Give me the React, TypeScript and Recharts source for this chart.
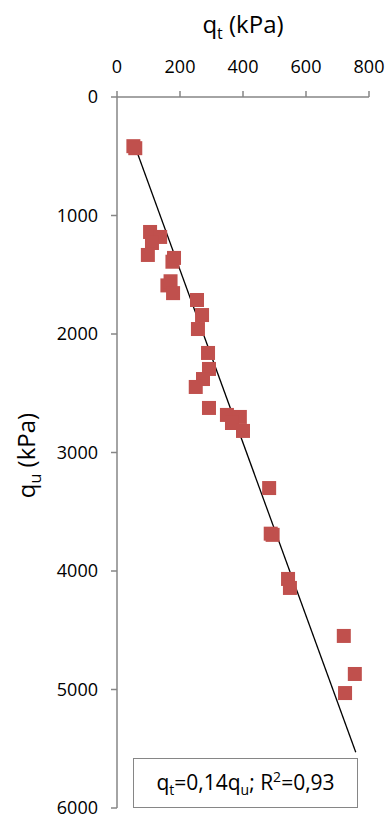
import {
  ScatterChart,
  Scatter,
  XAxis,
  YAxis,
  ZAxis,
  ReferenceLine,
} from "recharts";

// values (qt in kPa, qu in kPa)
const qtValues = [
  52, 58, 105, 137, 111, 98, 181, 176, 160, 170, 178, 254, 270, 257, 289, 292,
  273, 250, 292, 349, 390, 365, 400, 483, 488, 494, 543, 549, 720, 755, 724,
];
const quValues = [
  415, 432, 1139, 1181, 1232, 1333, 1358, 1390, 1590, 1555, 1655, 1713, 1840,
  1958, 2160, 2295, 2380, 2447, 2624, 2683, 2700, 2751, 2818, 3300, 3685, 3695,
  4067, 4143, 4548, 4869, 5030,
];

const trendQt = [52, 758];
const trendQu = [380, 5530];

const xTicks = [0, 200, 400, 600, 800];
const yTicks = [0, 1000, 2000, 3000, 4000, 5000, 6000];

const FONT = "'Open Sans', sans-serif";
const AXIS = "#868686";
const RED = "#C0504D";

const points = qtValues.map((qt, i) => ({ qt, qu: quValues[i] }));

const Square = (props: any) => {
  const { cx, cy } = props;
  if (cx == null || cy == null) return null;
  return <rect x={cx - 7} y={cy - 7} width={14} height={14} fill={RED} />;
};

const TopTitle = (props: any) => {
  const vb = props.viewBox;
  const cx = vb.x + vb.width / 2;
  return (
    <text x={cx} y={33} textAnchor="middle" fontFamily={FONT} fontSize={24} fill="#000">
      <tspan>q</tspan>
      <tspan dy={6} fontSize={16}>t</tspan>
      <tspan dy={-6}> (kPa)</tspan>
    </text>
  );
};

const SideTitle = (props: any) => {
  const vb = props.viewBox;
  const cy = vb.y + vb.height / 2 + 3;
  const x = 35;
  return (
    <text
      x={x}
      y={cy}
      textAnchor="middle"
      transform={`rotate(-90 ${x} ${cy})`}
      fontFamily={FONT}
      fontSize={24}
      fill="#000"
    >
      <tspan>q</tspan>
      <tspan dy={6} fontSize={16}>u</tspan>
      <tspan dy={-6}> (kPa)</tspan>
    </text>
  );
};

export default function App() {
  return (
    <div style={{ position: "absolute", left: 0, top: 0, width: 387, height: 819, background: "#fff" }}>
      <ScatterChart
        width={387}
        height={819}
        margin={{ top: 0, right: 18, bottom: 11, left: 0 }}
      >
        <XAxis
          type="number"
          dataKey="qt"
          orientation="top"
          height={97}
          domain={[0, 800]}
          ticks={xTicks}
          allowDataOverflow
          stroke={AXIS}
          strokeWidth={1.5}
          tickSize={6}
          tickMargin={18}
          tick={{ fill: "#000", fontFamily: FONT, fontSize: 18 }}
          label={{ content: TopTitle }}
        />
        <YAxis
          type="number"
          dataKey="qu"
          reversed
          width={117}
          domain={[0, 6000]}
          ticks={yTicks}
          allowDataOverflow
          stroke={AXIS}
          strokeWidth={1.5}
          tickSize={6}
          tickMargin={13}
          tick={{ fill: "#000", fontFamily: FONT, fontSize: 18 }}
          label={{ content: SideTitle }}
        />
        <ZAxis range={[196, 196]} />
        <Scatter data={points} shape={Square} isAnimationActive={false} />
        <ReferenceLine
          segment={[
            { x: trendQt[0], y: trendQu[0] },
            { x: trendQt[1], y: trendQu[1] },
          ]}
          stroke="#000"
          strokeWidth={1.3}
          ifOverflow="visible"
        />
      </ScatterChart>
      <div
        style={{
          position: "absolute",
          left: 133,
          top: 758,
          width: 225,
          height: 50,
          boxSizing: "border-box",
          border: `1.5px solid ${AXIS}`,
          background: "#fff",
          fontFamily: FONT,
          fontSize: 21,
          display: "flex",
          alignItems: "center",
          justifyContent: "center",
          whiteSpace: "nowrap",
        }}
      >
        <span>
          q<sub style={{ fontSize: 14 }}>t</sub>=0,14q<sub style={{ fontSize: 14 }}>u</sub>; R
          <sup style={{ fontSize: 14 }}>2</sup>=0,93
        </span>
      </div>
    </div>
  );
}
